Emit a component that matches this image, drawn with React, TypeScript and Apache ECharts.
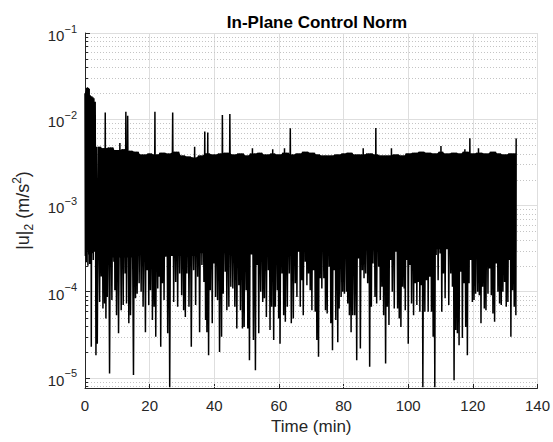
import React, { useEffect, useRef } from "react";
import * as echarts from "echarts";

// ---- data ----
const xTicks = [0, 20, 40, 60, 80, 100, 120, 140];
const yMin = 7.65e-6;
const yMax = 1e-1;

// start-up transient (minutes, |u|2)
const startupPoints: [number, number][] = [
  [0.0, 2.0e-2], [0.12, 2.6e-4], [0.25, 2.1e-2], [0.38, 2.2e-4], [0.5, 2.3e-2],
  [0.63, 3.0e-4], [0.76, 2.35e-2], [0.9, 2.0e-4], [1.03, 2.3e-2], [1.17, 2.7e-4],
  [1.3, 2.25e-2], [1.45, 2.1e-4], [1.6, 1.9e-2], [1.75, 3.0e-4], [1.85, 1.85e-2],
  [1.95, 2.3e-5], [2.1, 1.85e-2], [2.3, 2.8e-4], [2.45, 1.8e-2], [2.57, 2.33e-4],
  [2.75, 1.75e-2], [2.95, 2.9e-4], [3.15, 1.6e-2], [3.39, 1.84e-5], [3.6, 4.8e-3],
];

// lower tips of the oscillation (minutes, |u|2)
const troughs: [number, number][] = [
  [3.8, 2.5e-5], [4.52, 7.6e-5], [5.05, 1.5e-4], [5.55, 6.4e-5], [6.06, 7.3e-5], [6.47, 4.9e-5],
  [6.88, 8.7e-5], [7.6, 1.13e-5], [8.32, 8.0e-5], [8.94, 2.23e-4], [9.25, 1.04e-4],
  [9.76, 5.35e-5], [10.38, 3.3e-5], [11.2, 6.1e-5], [11.82, 7.0e-5], [12.43, 1.63e-4],
  [12.85, 7.3e-5], [13.56, 4.3e-5], [14.08, 5.35e-5], [15.0, 1.08e-5], [15.62, 8.4e-5],
  [16.13, 9.5e-5], [16.75, 1.25e-4], [17.37, 1.0e-4], [17.98, 6.7e-5], [18.7, 3.4e-5],
  [19.22, 1.78e-4], [19.73, 7.0e-5], [20.25, 1.04e-4], [20.86, 4.7e-5], [21.38, 6.7e-5],
  [21.89, 3.0e-5], [22.51, 1.09e-4], [22.92, 1.49e-4], [23.43, 2.3e-5], [23.95, 1.25e-4],
  [24.46, 8.0e-5], [24.97, 2.55e-4], [25.59, 3.3e-5], [26.21, 7.8e-6], [26.82, 2.78e-4],
  [27.44, 7.6e-5], [28.06, 1.3e-4], [28.67, 6.7e-5], [29.29, 1.63e-4], [29.91, 9.1e-5],
  [30.52, 6.1e-5], [31.04, 5.1e-5], [31.55, 1.63e-4], [32.17, 6.7e-5], [32.89, 2.3e-5],
  [33.61, 1.78e-4], [34.23, 7.0e-5], [34.85, 1.49e-4], [35.46, 3.4e-5], [36.18, 2.04e-4],
  [36.8, 1.3e-4], [37.31, 4.7e-5], [37.72, 3.4e-5], [38.24, 1.84e-5], [38.75, 1.04e-4],
  [39.37, 4.3e-5], [39.88, 2.13e-4], [40.4, 8.7e-5], [41.01, 8.0e-5], [41.63, 2.0e-5],
  [42.25, 3.0e-5], [42.76, 9.5e-5], [43.38, 1.7e-4], [43.89, 6.1e-5], [44.51, 6.7e-5],
  [45.12, 1.14e-4], [45.74, 1.09e-4], [46.36, 6.7e-5], [46.97, 3.75e-5], [47.59, 1.19e-4],
  [48.1, 6.1e-5], [48.72, 3.75e-5], [49.24, 3.9e-5], [49.85, 1.04e-4], [50.37, 3.75e-5],
  [50.88, 1.6e-5], [51.5, 3.04e-4], [52.11, 2.75e-5], [52.73, 1.23e-5], [53.24, 2.04e-4],
  [53.76, 3.3e-5], [54.37, 1.0e-4], [54.99, 7.6e-5], [55.5, 8.4e-5], [56.12, 5.1e-5],
  [56.74, 1.78e-4], [57.25, 3.6e-5], [57.77, 6.7e-5], [58.38, 2.75e-5], [58.9, 6.7e-5],
  [59.51, 1.04e-4], [59.92, 4.9e-5], [60.34, 2.5e-5], [60.95, 1.63e-4], [61.47, 5.35e-5],
  [61.98, 4.5e-5], [62.6, 6.7e-5], [63.21, 1.63e-4], [63.83, 4.3e-5], [64.45, 4.9e-5],
  [65.06, 1.25e-4], [65.57, 8.7e-5], [66.09, 3.32e-4], [66.6, 6.7e-5], [67.12, 1.36e-4],
  [67.53, 5.35e-5], [68.14, 2.23e-4], [68.66, 1.19e-4], [69.17, 1.63e-4], [69.68, 1.04e-4],
  [70.2, 6.1e-5], [70.71, 1.78e-4], [71.23, 5.85e-5], [71.74, 2.75e-5], [72.25, 1.76e-5],
  [72.77, 1.43e-4], [73.28, 1.09e-4], [73.9, 1.43e-4], [74.41, 6.1e-5], [74.93, 5.6e-5],
  [75.54, 1.95e-4], [76.06, 4.3e-5], [76.57, 2.1e-5], [77.08, 1.78e-4], [77.6, 4.7e-5],
  [78.21, 2.6e-5], [78.63, 6.4e-5], [79.24, 8.7e-5], [79.76, 1.0e-4], [80.27, 9.5e-5],
  [80.89, 1.0e-4], [81.3, 7.3e-5], [81.81, 5.35e-5], [82.33, 3.4e-5], [82.84, 5.35e-5],
  [83.46, 5.35e-5], [84.07, 1.6e-5], [84.59, 2.43e-4], [85.2, 2.2e-5], [85.82, 1.78e-4],
  [86.33, 1.43e-4], [86.85, 1.63e-4], [87.46, 1.25e-4], [88.08, 1.35e-5], [88.6, 6.7e-5],
  [89.11, 2.13e-4], [89.73, 8.7e-5], [90.24, 7.3e-5], [90.86, 1.95e-4], [91.37, 8.0e-5],
  [91.88, 1.14e-4], [92.4, 5.35e-5], [93.01, 1.47e-5], [93.53, 6.7e-5], [94.04, 4.1e-5],
  [94.56, 2.33e-4], [95.07, 1.0e-4], [95.69, 6.4e-5], [96.2, 3.2e-4], [96.72, 6.4e-5],
  [97.23, 4.9e-5], [97.74, 3.9e-5], [98.26, 1.14e-4], [98.77, 1.09e-4], [99.09, 6.1e-5],
  [99.6, 2.33e-4], [100.01, 2.5e-5], [100.52, 2.04e-4], [101.04, 7.3e-5], [101.66, 5.35e-5],
  [102.17, 1.25e-4], [102.68, 7.0e-5], [103.09, 1.3e-4], [103.61, 5.85e-5], [104.12, 1.19e-4],
  [104.53, 7.8e-6], [105.15, 5.85e-5], [105.66, 1.36e-4], [106.18, 5.85e-5], [106.69, 1.49e-4],
  [107.2, 5.85e-5], [107.72, 3.0e-5], [108.23, 7.8e-6], [108.64, 2.66e-4], [109.26, 1.36e-4],
  [109.88, 2.78e-4], [110.39, 5.85e-5], [110.9, 1.63e-4], [111.42, 8.4e-5], [112.04, 3.97e-4],
  [112.55, 7.0e-5], [113.17, 1.63e-4], [113.68, 1.14e-4], [114.19, 9.4e-6], [114.71, 3.6e-5],
  [115.22, 3.3e-5], [115.74, 2.4e-5], [116.25, 1.7e-4], [116.76, 2.9e-5], [117.28, 1.25e-4],
  [117.79, 3.9e-5], [118.31, 1.84e-5], [118.82, 1.25e-4], [119.33, 2.33e-4], [119.85, 7.6e-5],
  [120.36, 8.0e-5], [120.87, 9.5e-5], [121.49, 1.0e-4], [122.0, 9.1e-5], [122.52, 4.3e-5],
  [123.03, 1.14e-4], [123.55, 6.4e-5], [124.06, 6.1e-5], [124.68, 9.5e-5], [125.19, 1.86e-4],
  [125.7, 9.1e-5], [126.22, 5.6e-5], [126.73, 4.5e-5], [127.25, 2.13e-4], [127.76, 1.0e-4],
  [128.27, 7.3e-5], [128.79, 7.0e-5], [129.3, 1.0e-4], [129.82, 1.3e-4], [130.33, 6.7e-5],
  [130.84, 7.6e-5], [131.36, 2.33e-4], [131.77, 3.0e-5], [132.28, 1.04e-4], [132.8, 6.7e-5],
  [133.31, 5.35e-5],
];

// upper edge of the band, read every 2 minutes from t = 0
const peakStep = 2;
const peakEnvelope = [
  2.3e-2, 1.8e-2, 4.8e-3, 4.6e-3, 4.7e-3, 4.4e-3, 4.5e-3, 4.3e-3, 4.2e-3, 3.9e-3,
  4.0e-3, 3.9e-3, 4.1e-3, 4.0e-3, 4.2e-3, 3.8e-3, 3.7e-3, 3.6e-3, 3.8e-3, 4.0e-3,
  3.9e-3, 4.0e-3, 4.1e-3, 3.9e-3, 4.0e-3, 3.8e-3, 4.0e-3, 4.1e-3, 3.9e-3, 4.0e-3,
  3.9e-3, 4.1e-3, 3.9e-3, 4.0e-3, 4.2e-3, 4.1e-3, 3.9e-3, 3.8e-3, 3.8e-3, 3.9e-3,
  4.0e-3, 4.1e-3, 3.9e-3, 3.9e-3, 4.0e-3, 3.9e-3, 3.8e-3, 3.8e-3, 3.9e-3, 3.8e-3,
  4.0e-3, 4.1e-3, 4.2e-3, 4.1e-3, 4.0e-3, 4.2e-3, 4.0e-3, 4.1e-3, 4.0e-3, 4.2e-3,
  4.0e-3, 4.1e-3, 4.0e-3, 4.2e-3, 4.0e-3, 3.9e-3, 4.0e-3,
];

// lower edge of the solid black core of the band, read every 10 minutes from t = 0
const coreStep = 10;
const coreLower = [
  2.6e-4, 2.5e-4, 2.7e-4, 2.6e-4, 2.8e-4, 2.7e-4, 2.6e-4, 2.9e-4,
  2.8e-4, 3.0e-4, 2.9e-4, 3.1e-4, 3.0e-4, 2.9e-4,
];

// isolated upward spikes (minutes, |u|2)
const upperSpikes: [number, number][] = [
  [6.4, 1.2e-2], [10.6, 5.3e-3], [12.8, 1.22e-2], [13.3, 1.1e-2], [21.8, 1.22e-2],
  [27.0, 1.2e-2], [33.6, 4.8e-3], [37.2, 7.2e-3], [37.9, 7.0e-3], [42.6, 1.12e-2],
  [44.6, 1.15e-2], [52.1, 4.6e-3], [58.3, 4.5e-3], [61.9, 4.6e-3], [63.4, 7.85e-3],
  [85.8, 4.6e-3], [89.9, 7.9e-3], [94.6, 4.6e-3], [110.3, 4.9e-3], [117.4, 4.5e-3],
  [118.9, 6.0e-3], [121.8, 4.6e-3], [133.4, 6.0e-3],
];

// minor grid values (2..9 x 10^n)
const minorMantissas = [2, 3, 4, 5, 6, 7, 8, 9];
const decades = [-6, -5, -4, -3, -2];

const FONT = "'Liberation Sans', Arial, Helvetica, sans-serif";
const TXT = "#262626";

function envelopeAt(t: number) {
  return peakEnvelope[Math.min(peakEnvelope.length - 1, Math.round(t / peakStep))];
}
function coreAt(t: number) {
  return coreLower[Math.min(coreLower.length - 1, Math.round(t / coreStep))];
}

function buildPeaks(): [number, number][] {
  const peaks: [number, number][] = [];
  for (let i = 0; i < troughs.length - 1; i++) {
    const t = (troughs[i][0] + troughs[i + 1][0]) / 2;
    peaks.push([t, envelopeAt(t)]);
  }
  peaks.push([133.4, envelopeAt(133.4)]);
  return peaks;
}

function buildSeries(): [number, number][] {
  const peaks = buildPeaks();
  upperSpikes.forEach(([t, v]) => {
    let best = 0;
    let bd = Infinity;
    peaks.forEach((p, j) => {
      const d = Math.abs(p[0] - t);
      if (d < bd) { bd = d; best = j; }
    });
    peaks[best][1] = Math.max(peaks[best][1], v);
  });
  const out: [number, number][] = [...startupPoints];
  for (let i = 0; i < troughs.length; i++) {
    out.push(troughs[i]);
    out.push(peaks[i]);
  }
  return out;
}

export default function App() {
  const ref = useRef<HTMLDivElement>(null);
  useEffect(() => {
    if (!ref.current) return;
    const chart = echarts.init(ref.current, undefined, { renderer: "svg" });
    const minorData: [number, number][] = [];
    decades.forEach((d) =>
      minorMantissas.forEach((m) => {
        const v = m * Math.pow(10, d);
        if (v > yMin && v < yMax) minorData.push([0, v]);
      })
    );
    const basePeaks = buildPeaks();
    const option: any = {
      animation: false,
      backgroundColor: "#ffffff",
      title: {
        text: "In-Plane Control Norm",
        left: 312,
        top: 9,
        textAlign: "center",
        textStyle: { fontFamily: FONT, fontSize: 17, fontWeight: "bold", color: "#000" },
      },
      grid: { left: 85, right: 14, top: 33, bottom: 54 },
      xAxis: {
        type: "value",
        min: 0,
        max: 140,
        interval: 20,
        name: "Time (min)",
        nameLocation: "middle",
        nameGap: 30,
        nameTextStyle: { fontFamily: FONT, fontSize: 17, color: TXT },
        axisLine: { show: true, onZero: false, lineStyle: { color: TXT, width: 1 } },
        axisTick: { show: true, inside: true, length: 4, lineStyle: { color: TXT } },
        axisLabel: {
          fontFamily: FONT, fontSize: 15, color: TXT, margin: 10,
          formatter: (v: number) => (xTicks.includes(v) ? String(v) : ""),
        },
        splitLine: { show: true, lineStyle: { color: "#dedede", width: 1 } },
      },
      yAxis: {
        type: "log",
        logBase: 10,
        min: yMin,
        max: yMax,
        name: "{n||u|}{sub|2}{n| (m/s}{sup|2}{n|)}",
        nameLocation: "middle",
        nameRotate: 90,
        nameGap: 50,
        nameTextStyle: {
          fontFamily: FONT, fontSize: 18, color: TXT,
          rich: {
            n: { fontFamily: FONT, fontSize: 18, color: TXT, lineHeight: 24 },
            sub: { fontFamily: FONT, fontSize: 12, color: TXT, lineHeight: 13, verticalAlign: "bottom" },
            sup: { fontFamily: FONT, fontSize: 12, color: TXT, lineHeight: 13, verticalAlign: "top" },
          },
        },
        axisLine: { show: true, lineStyle: { color: TXT, width: 1 } },
        axisTick: { show: true, inside: true, length: 5, lineStyle: { color: TXT } },
        minorTick: { show: false },
        axisLabel: {
          margin: 8,
          showMinLabel: false,
          formatter: (v: number) => {
            const e = Math.log10(v);
            const r = Math.round(e);
            if (Math.abs(e - r) > 1e-6) return "";
            return `{b|10}{s|${r < 0 ? "\u2212" : ""}${Math.abs(r)}}`;
          },
          rich: {
            b: { fontFamily: FONT, fontSize: 15, color: TXT, lineHeight: 11, verticalAlign: "bottom" },
            s: { fontFamily: FONT, fontSize: 11, color: TXT, lineHeight: 20, verticalAlign: "top" },
          },
        },
        splitLine: { show: true, lineStyle: { color: "#dedede", width: 1 } },
      },
      series: [
        {
          type: "custom",
          z: 1,
          silent: true,
          clip: false,
          encode: { x: 0, y: 1 },
          data: minorData,
          renderItem: (_p: any, api: any) => {
            const v = api.value(1);
            const a = api.coord([0, v]);
            const b = api.coord([140, v]);
            const y = Math.round(a[1]) + 0.5;
            return {
              type: "group",
              children: [
                {
                  type: "line",
                  shape: { x1: a[0], y1: y, x2: b[0], y2: y },
                  style: { stroke: "#c4c4c4", lineWidth: 1, lineDash: [1, 2] },
                },
                {
                  type: "line",
                  shape: { x1: a[0], y1: y, x2: a[0] + 3, y2: y },
                  style: { stroke: TXT, lineWidth: 1 },
                },
              ],
            };
          },
        },
        {
          // solid core of the densely oscillating band
          type: "custom",
          z: 2,
          silent: true,
          encode: { x: 0, y: 1 },
          data: [[troughs[0][0], coreAt(troughs[0][0])]],
          renderItem: (_p: any, api: any) => {
            const pts: number[][] = [];
            basePeaks.forEach(([t, v]) => pts.push(api.coord([t, v])));
            for (let i = basePeaks.length - 1; i >= 0; i--) {
              const t = basePeaks[i][0];
              pts.push(api.coord([t, coreAt(t)]));
            }
            return { type: "polygon", shape: { points: pts }, style: { fill: "#000" } };
          },
        },
        {
          type: "line",
          z: 3,
          data: buildSeries(),
          showSymbol: false,
          symbol: "none",
          clip: true,
          lineStyle: { color: "#000000", width: 1.5 },
        },
      ],
    };
    chart.setOption(option);
    return () => chart.dispose();
  }, []);
  return (
    <div
      ref={ref}
      style={{ position: "fixed", left: 0, top: 0, width: 553, height: 442, background: "#fff" }}
    />
  );
}
